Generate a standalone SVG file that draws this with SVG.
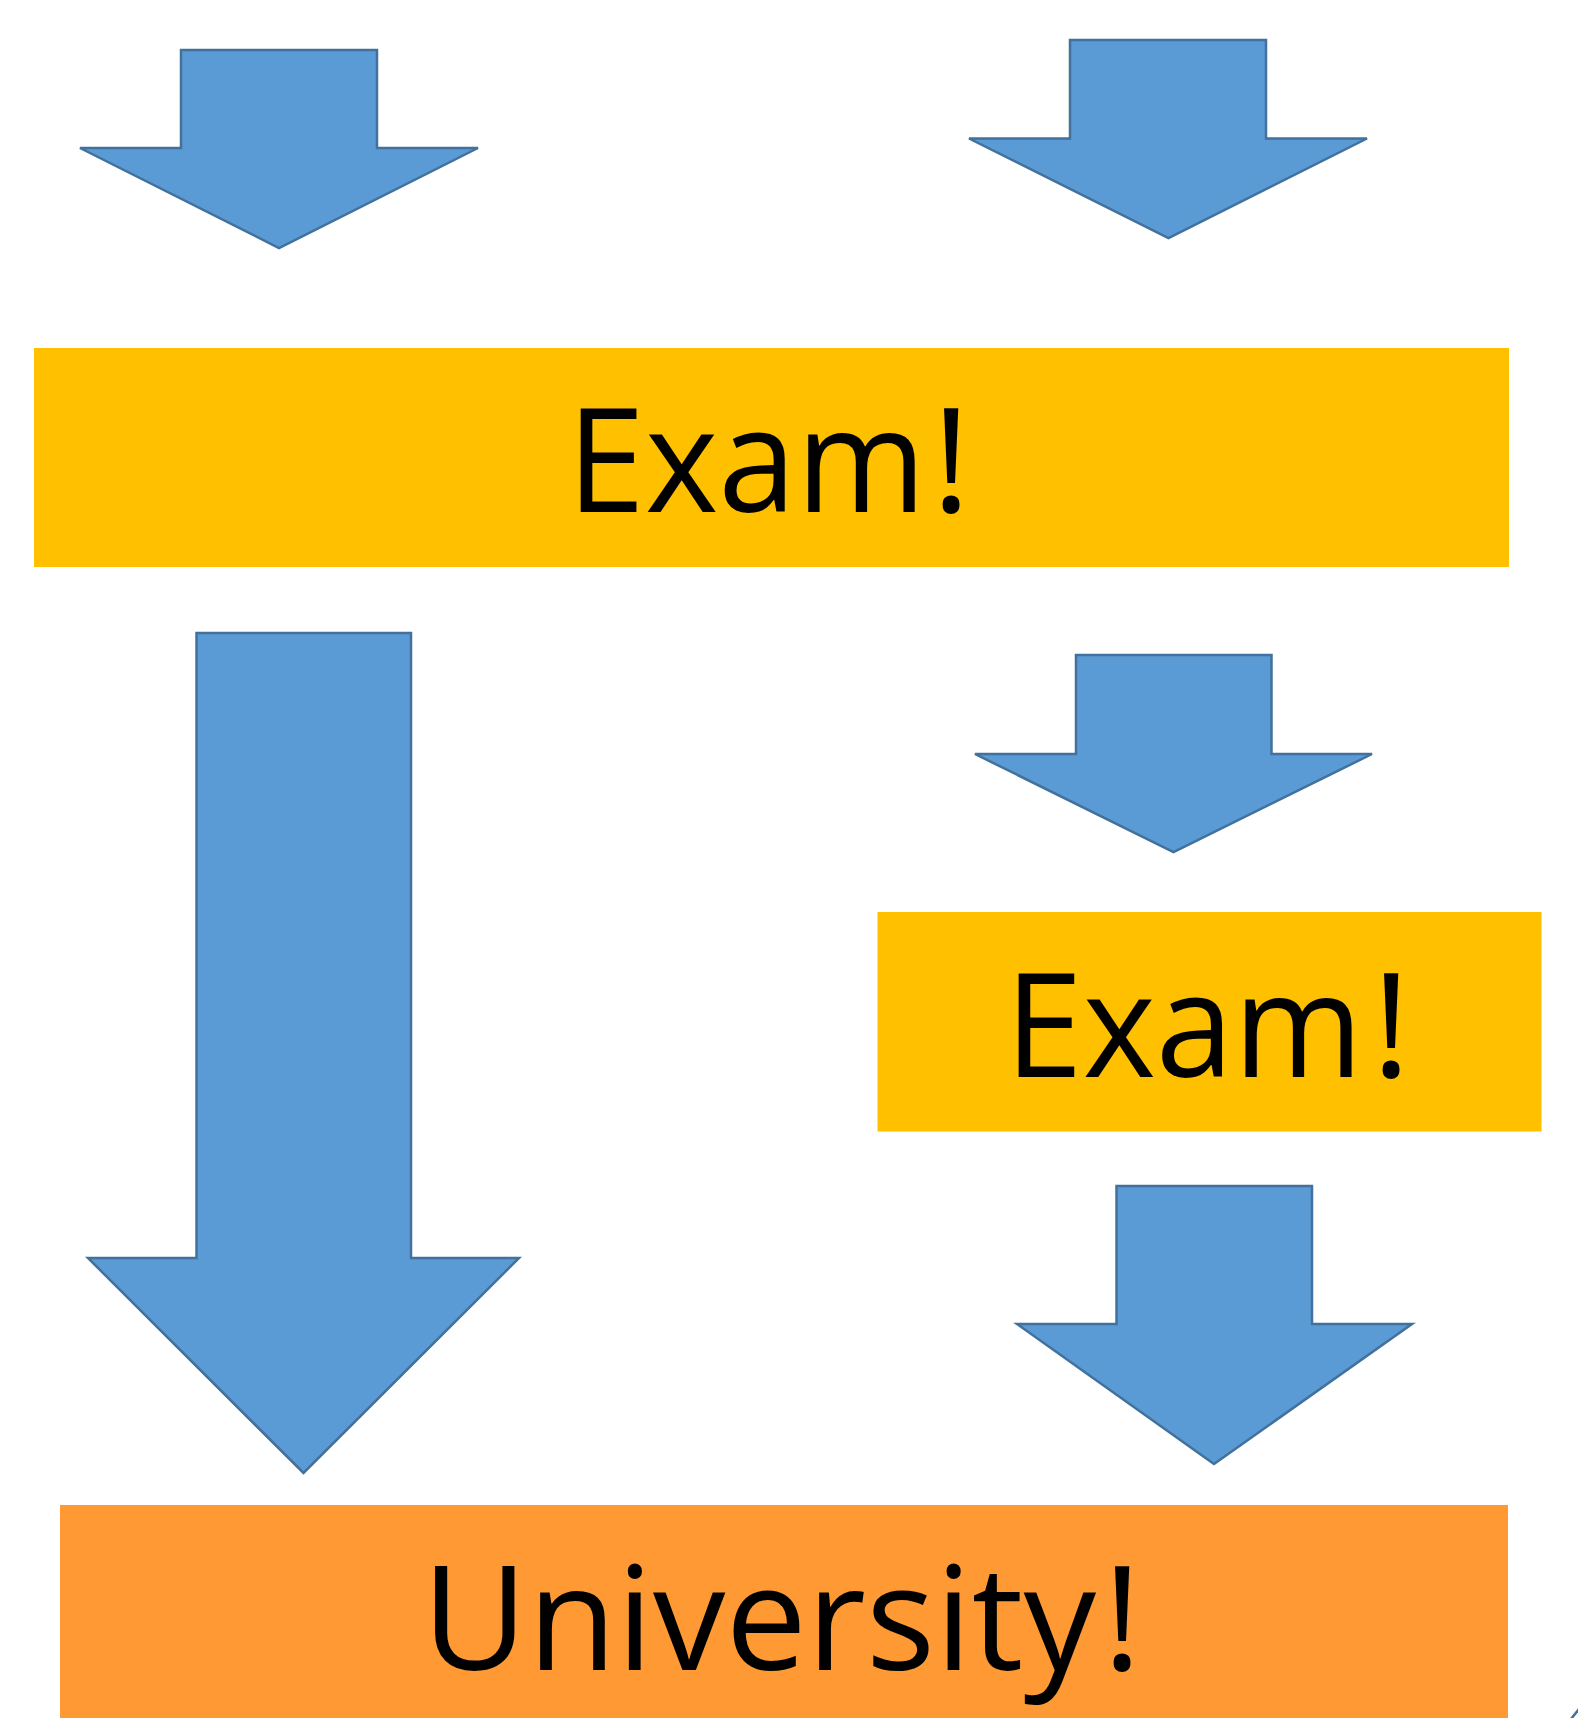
<svg xmlns="http://www.w3.org/2000/svg" width="1578" height="1718" viewBox="0 0 1578 1718">
  <style>
    .arrow { fill: #5B9BD5; stroke: #41719C; stroke-width: 2.5; stroke-linejoin: miter; }
    .exam { fill: #FFC000; }
    .uni { fill: #FF9933; }
    .label { font-family: "Open Sans", "Noto Sans", "Liberation Sans", sans-serif; font-size: 145px; fill: #000000; }
  </style>
  <rect width="1578" height="1718" fill="#FFFFFF"/>
  <g id="connectors">
    <polygon id="arrow-top-left" class="arrow" points="181,50 377,50 377,148 478,148 279,248 80,148 181,148"/>
    <polygon id="arrow-top-right" class="arrow" points="1070,40 1266,40 1266,138.5 1367,138.5 1168.5,238 969,138.5 1070,138.5"/>
    <polygon id="arrow-long-left" class="arrow" points="196.5,633 411,633 411,1258 519,1258 303.5,1473 88,1258 196.5,1258"/>
    <polygon id="arrow-mid-right" class="arrow" points="1076,655 1271.5,655 1271.5,754 1372,754 1173.5,852 975,754 1076,754"/>
    <polygon id="arrow-low-right" class="arrow" points="1116.5,1186 1312,1186 1312,1324 1412,1324 1214,1464 1017,1324 1116.5,1324"/>
    <line x1="1571" y1="1719" x2="1579" y2="1709" stroke="#41719C" stroke-width="2.5"/>
  </g>
  <g id="exam-1">
    <rect class="exam" x="34" y="348" width="1475" height="219"/>
    <text class="label" y="511.5"><tspan x="567" textLength="359" lengthAdjust="spacingAndGlyphs">Exam</tspan><tspan x="932">!</tspan></text>
  </g>
  <g id="exam-2">
    <rect class="exam" x="877.5" y="912" width="664" height="219.5"/>
    <text class="label" y="1077"><tspan x="1005" textLength="358" lengthAdjust="spacingAndGlyphs">Exam</tspan><tspan x="1372">!</tspan></text>
  </g>
  <g id="university">
    <rect class="uni" x="60" y="1505" width="1448" height="213"/>
    <text class="label" y="1670"><tspan x="422" textLength="674" lengthAdjust="spacingAndGlyphs">University</tspan><tspan x="1103">!</tspan></text>
  </g>
</svg>
